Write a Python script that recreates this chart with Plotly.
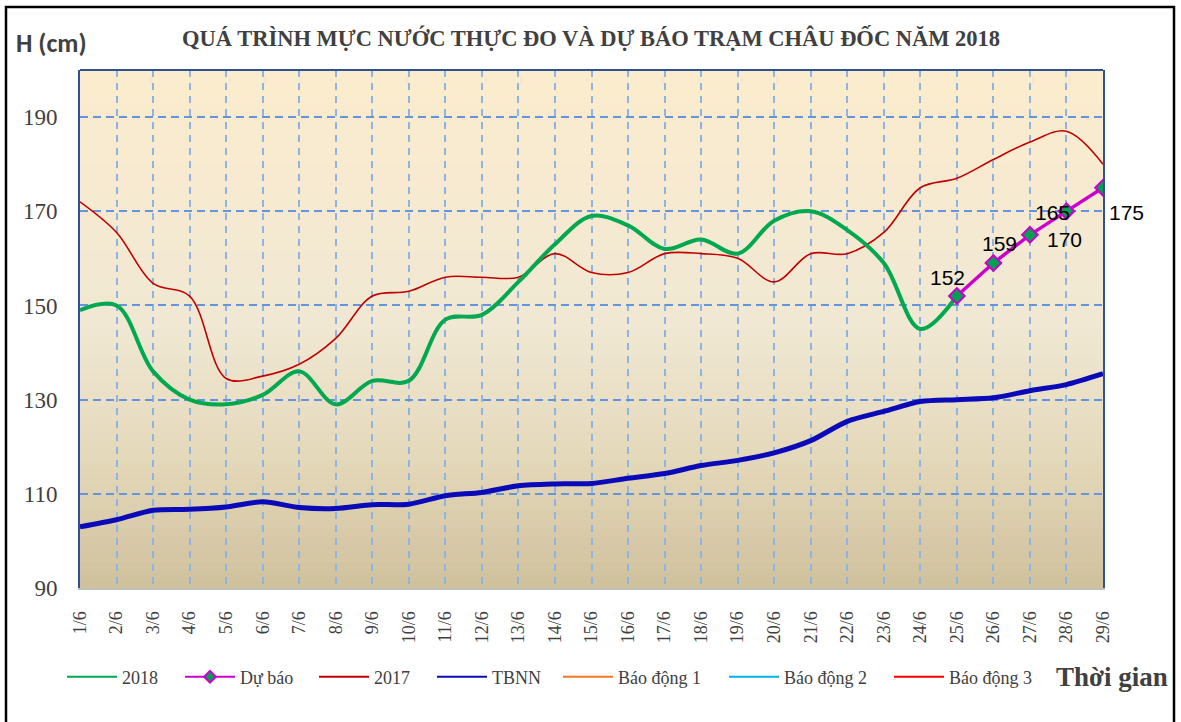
import plotly.graph_objects as go

# ---------------- DATA ----------------
ngay = ["1/6", "2/6", "3/6", "4/6", "5/6", "6/6", "7/6", "8/6", "9/6", "10/6",
        "11/6", "12/6", "13/6", "14/6", "15/6", "16/6", "17/6", "18/6", "19/6", "20/6",
        "21/6", "22/6", "23/6", "24/6", "25/6", "26/6", "27/6", "28/6", "29/6"]

ngay_2018 = ngay[:25]
muc_2018 = [149, 150, 136, 130, 129, 131, 136, 129, 134, 134,
            147, 148, 155, 163, 169, 167, 162, 164, 161, 168,
            170, 166, 159, 145, 152]

ngay_du_bao = ["25/6", "26/6", "27/6", "28/6", "29/6"]
du_bao = [152, 159, 165, 170, 175]

muc_2017 = [172, 165.5, 154.7, 152, 134.5, 135, 137.5, 143, 152, 153,
            156, 156, 156, 161, 157, 157, 161, 161, 160, 155,
            161, 161, 165.5, 175, 177, 181, 184.7, 187, 180]

tbnn = [103, 104.5, 106.5, 106.7, 107.2, 108.3, 107.1, 106.9, 107.7, 107.8,
        109.6, 110.3, 111.7, 112.1, 112.2, 113.3, 114.3, 116, 117.1, 118.7,
        121.3, 125.4, 127.5, 129.6, 130, 130.4, 131.9, 133.2, 135.5]

# Alarm levels at Chau Doc (outside the displayed range)
bao_dong_1 = [350] * len(ngay)
bao_dong_2 = [400] * len(ngay)
bao_dong_3 = [450] * len(ngay)

y_ticks = [90, 110, 130, 150, 170, 190]

# ---------------- STYLE ----------------
SERIF = "Liberation Serif, Times New Roman, serif"
SANS = "Liberation Sans, Arial, sans-serif"
TXT = "#404040"

L, R, T, B = 80, 78, 70, 134
W, H = 1181, 722
PW, PH = W - L - R, H - T - B


def px_x(p):
    return (p - L) / PW


def px_y(p):
    return (H - B - p) / PH


C_2018, C_DB, C_2017, C_TBNN = "#00A84F", "#CC00CC", "#C00000", "#0A0AB8"
C_BD1, C_BD2, C_BD3 = "#F07820", "#00B0F0", "#FF0000"

fig = go.Figure()

# data traces (legend drawn by thin legend-only entries below)
fig.add_trace(go.Scatter(x=ngay, y=bao_dong_1, name="Báo động 1", mode="lines",
                         line=dict(color=C_BD1, width=2), legend="legend5"))
fig.add_trace(go.Scatter(x=ngay, y=bao_dong_2, name="Báo động 2", mode="lines",
                         line=dict(color=C_BD2, width=2), legend="legend6"))
fig.add_trace(go.Scatter(x=ngay, y=bao_dong_3, name="Báo động 3", mode="lines",
                         line=dict(color=C_BD3, width=2), legend="legend7"))
fig.add_trace(go.Scatter(x=ngay, y=tbnn, name="TBNN", mode="lines", showlegend=False,
                         line=dict(color=C_TBNN, width=5, shape="spline", smoothing=0.8)))
fig.add_trace(go.Scatter(x=ngay, y=muc_2017, name="2017", mode="lines", showlegend=False,
                         line=dict(color=C_2017, width=1.6, shape="spline", smoothing=1)))
fig.add_trace(go.Scatter(x=ngay_2018, y=muc_2018, name="2018", mode="lines", showlegend=False,
                         line=dict(color=C_2018, width=4, shape="spline", smoothing=1)))
fig.add_trace(go.Scatter(x=ngay_du_bao, y=du_bao, name="Dự báo", mode="lines+markers",
                         showlegend=False, line=dict(color=C_DB, width=3.5),
                         marker=dict(symbol="diamond", size=12, color="#00A050",
                                     line=dict(color=C_DB, width=2))))

# legend entries with thin lines
fig.add_trace(go.Scatter(x=[None], y=[None], name="2018", mode="lines",
                         line=dict(color=C_2018, width=2), legend="legend"))
fig.add_trace(go.Scatter(x=[None], y=[None], name="Dự báo", mode="lines+markers",
                         line=dict(color=C_DB, width=2),
                         marker=dict(symbol="diamond", size=9, color="#00A050",
                                     line=dict(color=C_DB, width=2)), legend="legend2"))
fig.add_trace(go.Scatter(x=[None], y=[None], name="2017", mode="lines",
                         line=dict(color=C_2017, width=2), legend="legend3"))
fig.add_trace(go.Scatter(x=[None], y=[None], name="TBNN", mode="lines",
                         line=dict(color=C_TBNN, width=2), legend="legend4"))

# forecast labels
offsets = [(-9, 19), (6, 20), (23, 22), (-2, -28), (23, -25)]
for xv, yv, (dx, dy) in zip(ngay_du_bao, du_bao, offsets):
    fig.add_annotation(x=xv, y=yv, text=str(yv), showarrow=False, xshift=dx, yshift=dy,
                       xanchor="center", yanchor="middle",
                       font=dict(family=SANS, size=21, color="#000000"))

# gradient background
stops = [(0.0, (208, 193, 157)), (0.25, (228, 216, 186)), (0.5, (240, 232, 211)), (1.0, (252, 236, 206))]
N = 60
shapes = []
for i in range(N):
    f = (i + 0.5) / N
    for (a, ca), (b, cb) in zip(stops[:-1], stops[1:]):
        if a <= f <= b:
            t = (f - a) / (b - a)
            c = tuple(int(round(ca[k] + (cb[k] - ca[k]) * t)) for k in range(3))
            break
    shapes.append(dict(type="rect", xref="paper", yref="paper", x0=0, x1=1,
                       y0=i / N, y1=(i + 1) / N + 0.002, fillcolor="rgb(%d,%d,%d)" % c,
                       line=dict(width=0), layer="below"))
# top border of plot area
shapes.append(dict(type="line", xref="paper", yref="paper", x0=0, x1=1, y0=1, y1=1,
                   line=dict(color="#2F528F", width=2)))
# outer frame
shapes.append(dict(type="rect", xref="paper", yref="paper",
                   x0=px_x(6), x1=px_x(1174), y0=px_y(730), y1=px_y(7),
                   line=dict(color="#000000", width=2.5)))

# texts
fig.add_annotation(xref="paper", yref="paper", x=px_x(591), y=px_y(38),
                   xanchor="center", yanchor="middle",
                   text="<b>QUÁ TRÌNH MỰC NƯỚC THỰC ĐO VÀ DỰ BÁO TRẠM CHÂU ĐỐC NĂM 2018</b>",
                   showarrow=False, font=dict(family=SERIF, size=22.5, color=TXT))
fig.add_annotation(xref="paper", yref="paper", x=px_x(51), y=px_y(43),
                   xanchor="center", yanchor="middle",
                   text="<b>H (cm)</b>", showarrow=False,
                   font=dict(family="Carlito, Liberation Sans, sans-serif", size=26, color=TXT))
fig.add_annotation(xref="paper", yref="paper", x=px_x(1112), y=px_y(677),
                   xanchor="center", yanchor="middle",
                   text="<b>Thời gian</b>", showarrow=False,
                   font=dict(family=SERIF, size=27, color=TXT))

leg_common = dict(orientation="h", yanchor="middle", xanchor="left", y=px_y(677),
                  bgcolor="rgba(0,0,0,0)", font=dict(family=SERIF, size=18, color=TXT),
                  itemwidth=50)
text_starts = [120, 238, 372, 490, 616, 782, 947]
legends = {}
for i, ts in enumerate(text_starts):
    key = "legend" if i == 0 else "legend%d" % (i + 1)
    legends[key] = dict(leg_common, x=px_x(ts - 58))

fig.update_layout(
    width=W, height=H,
    margin=dict(l=L, r=R, t=T, b=B),
    paper_bgcolor="white",
    plot_bgcolor="#F5EBD5",
    shapes=shapes,
    showlegend=True,
    **legends,
    xaxis=dict(type="category", categoryorder="array", categoryarray=ngay,
               range=[0, len(ngay) - 1], showgrid=True, gridcolor="#8DB4E2",
               gridwidth=2, griddash="7px,6px", tickangle=-90,
               tickfont=dict(family=SERIF, size=18, color=TXT),
               showline=True, linecolor="#BFBFBF", linewidth=2,
               ticks="", ticklabelstandoff=14, zeroline=False, fixedrange=True),
    yaxis=dict(range=[90, 200], tickvals=y_ticks, showgrid=True, gridcolor="#6495DC",
               gridwidth=1.6, griddash="8px,5px",
               tickfont=dict(family=SERIF, size=23, color=TXT),
               showline=True, linecolor="#2F528F", linewidth=2, mirror=True,
               ticks="inside", ticklen=7, tickcolor="#6495DC",
               ticklabelstandoff=16, zeroline=False, fixedrange=True),
)

fig.write_html("out.html", config={"displayModeBar": False},
               post_script="document.body.style.margin='0px';")
